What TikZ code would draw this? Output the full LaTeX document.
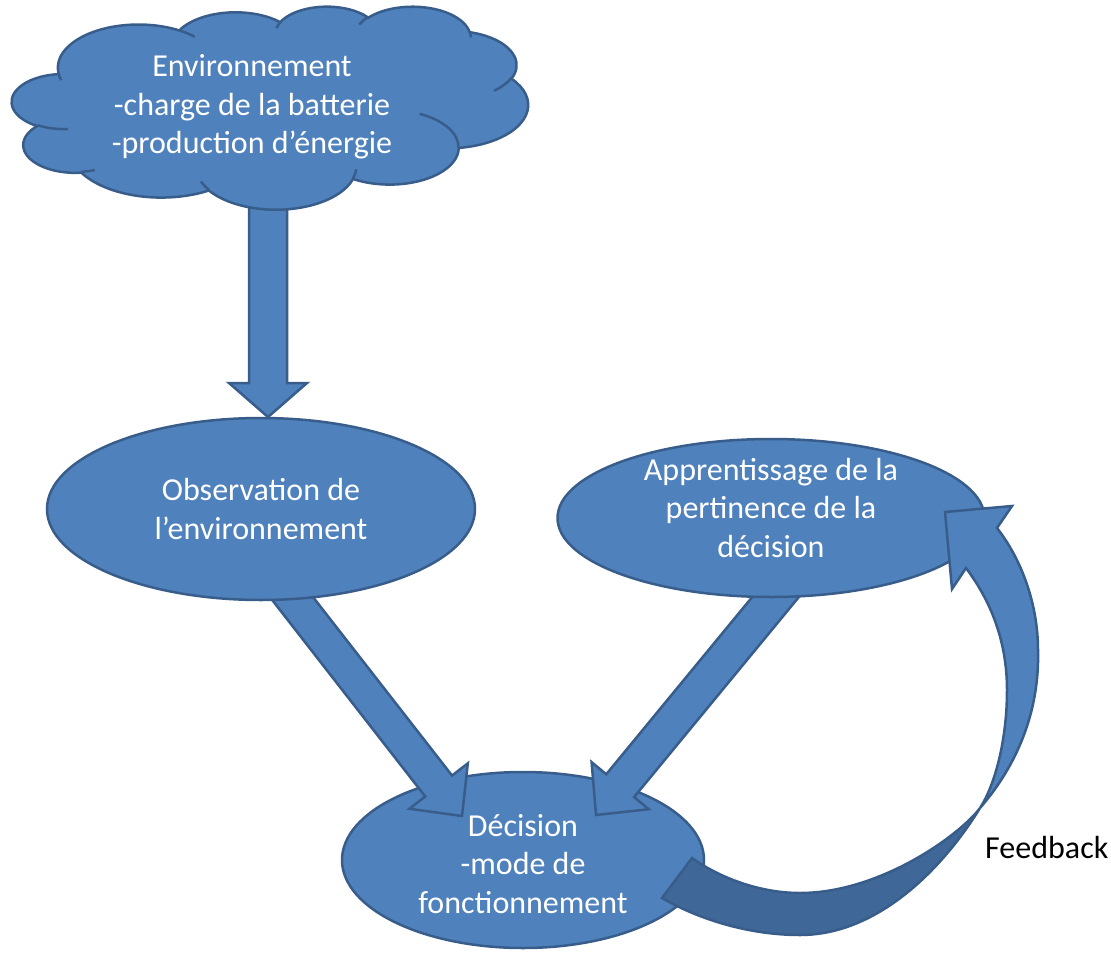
\documentclass[tikz,border=0pt]{standalone}
\usepackage{fontspec}
\setmainfont{Carlito}
\usetikzlibrary{calc,shapes.geometric}

\definecolor{shapefill}{HTML}{4F81BD}
\definecolor{shapeline}{HTML}{385D8A}
\definecolor{shapeback}{HTML}{3F6797}

\tikzset{
  blue shape/.style={fill=shapefill, draw=shapeline, line width=2.5pt, line join=miter},
  back shape/.style={fill=shapeback, draw=shapeline, line width=2.5pt, line join=miter},
  cloud rim/.style={draw=shapeline, line width=2.5pt},
  body font/.style={font=\fontsize{32}{38.5}\selectfont},
  oval/.style={blue shape, ellipse, inner sep=0pt, align=center, text=white, body font},
  inner text/.style={align=center, text=white, body font, inner sep=0pt},
  plain label/.style={text=black, body font, inner sep=0pt},
}

% block arrow from #1 (tail) to #2 (tip): shaft half width #3, head half width #4, head length #5
\newcommand\blockarrow[5]{%
  \coordinate (ba-m) at ($(#2)!#5!(#1)$);
  \filldraw[blue shape] ($(#1)!#3!90:(#2)$) -- ($(ba-m)!#3!90:(#2)$) -- ($(ba-m)!#4!90:(#2)$)
    -- (#2) -- ($(ba-m)!#4!-90:(#2)$) -- ($(ba-m)!#3!-90:(#2)$) -- ($(#1)!#3!-90:(#2)$) -- cycle;}

% cloud outline pieces: radii in 1/100 of the 43200 grid, angles in degrees
\newcommand\cloudarcdef[5]{%
  \pgfmathsetmacro\crx{#2*\csx}%
  \pgfmathsetmacro\cry{#3*\csy}%
  \pgfmathsetmacro\ctA{atan2(#2*sin(#4),#3*cos(#4))}%
  \pgfmathsetmacro\ctB{atan2(#2*sin(#4+#5),#3*cos(#4+#5))}%
  \pgfmathsetmacro\cd{\ctB-\ctA}%
  \pgfmathsetmacro\cd{\cd<0 ? \cd+360 : \cd}%
  \expandafter\xdef\csname carc#1\endcsname{arc[start angle=\ctA, delta angle=\cd, x radius=\crx, y radius=\cry]}%
}
\newcommand\cloudcrease[6]{%
  \cloudarcdef{Z}{#3}{#4}{#5}{#6}%
  \draw[cloud rim] (\cloudX+#1*\csx, \cloudY+#2*\csy) \carcZ;%
}

\begin{document}
\begin{tikzpicture}[x=1pt, y=-1pt]
\useasboundingbox (0,0) rectangle (1111,953);

% lowest layer: the decision oval
\node[oval, minimum width=362pt, minimum height=176pt] (dec) at (523,860) {};
\node[inner text] (dec-text) at ($(dec)+(0,4)$) {Décision\\-mode de\\fonctionnement};

% straight block arrows
\coordinate (env-tail) at (268,190);
\coordinate (obs-tip) at (268,417);
\coordinate (obs-tail) at (247,540);
\coordinate (dec-tip-l) at (462,816);
\coordinate (app-tail) at (806,560);
\coordinate (dec-tip-r) at (596,815);
\blockarrow{obs-tail}{dec-tip-l}{17pt}{37pt}{38pt}
\blockarrow{app-tail}{dec-tip-r}{18pt}{37pt}{38pt}
\blockarrow{env-tail}{obs-tip}{19pt}{39pt}{34pt}

% environment cloud
\def\cloudX{12}\def\cloudY{6}\def\cloudW{516}\def\cloudH{203}
\pgfmathsetmacro\csx{\cloudW/432}
\pgfmathsetmacro\csy{\cloudH/432}
\cloudarcdef{A}{67.53}{91.90}{-190.4875}{123.7805}
\cloudarcdef{B}{53.33}{72.67}{-144.1024}{89.9452}
\cloudarcdef{C}{43.65}{59.45}{-145.8079}{99.7230}
\cloudarcdef{D}{48.57}{65.95}{-130.9861}{117.2417}
\cloudarcdef{E}{53.33}{72.73}{-78.7089}{109.0269}
\cloudarcdef{F}{67.75}{92.20}{-46.2673}{130.2690}
\cloudarcdef{G}{57.85}{78.67}{0.6250}{114.0333}
\cloudarcdef{H}{67.52}{92.15}{22.4516}{115.1726}
\cloudarcdef{I}{77.20}{105.43}{66.2426}{75.7110}
\cloudarcdef{J}{43.60}{59.18}{-274.9421}{146.7356}
\cloudarcdef{K}{43.45}{59.45}{-246.8285}{152.5189}
\filldraw[blue shape] (\cloudX+39.00*\csx, \cloudY+143.70*\csy)
  \carcA \carcB \carcC \carcD \carcE \carcF \carcG \carcH \carcI \carcJ \carcK -- cycle;
\cloudcrease{46.93}{261.77}{43.45}{59.45}{86.7420}{26.4295}
\cloudcrease{69.28}{348.99}{43.60}{59.18}{73.6105}{11.4475}
\cloudcrease{164.78}{390.90}{67.52}{92.15}{137.6242}{14.0811}
\cloudcrease{288.27}{347.51}{67.52}{92.15}{6.4533}{15.9984}
\cloudcrease{341.29}{229.54}{57.85}{78.67}{-70.2924}{70.9174}
\cloudcrease{417.98}{153.54}{53.33}{72.73}{30.3180}{27.7515}
\cloudcrease{383.24}{54.26}{48.57}{65.95}{-13.7443}{14.8589}
\cloudcrease{290.78}{39.52}{48.57}{65.95}{-149.1815}{18.1954}
\cloudcrease{221.41}{47.20}{43.65}{59.45}{-163.4943}{17.6864}
\cloudcrease{140.00}{51.92}{67.53}{91.90}{-66.7070}{12.3194}
\cloudcrease{41.27}{157.89}{67.53}{91.90}{157.6544}{11.8582}
\node[inner text] (env) at (252,107) {Environnement\\-charge de la batterie\\-production d’énergie};

% upper ovals
\node[oval, minimum width=428pt, minimum height=182pt] (obs) at (261,509) {Observation de\\l’environnement};
\node[oval, minimum width=427pt, minimum height=158pt] (app) at (771,518) {};
\node[inner text] (app-text) at ($(app)+(0,-10)$) {Apprentissage de la\\pertinence de la\\décision};

% curved feedback arrow from the decision oval back up to the learning oval
\coordinate (fb-tail-a) at (692,858);
\coordinate (fb-tail-b) at (662,898);
\coordinate (fb-twist) at (980,808);
\coordinate (fb-tip) at (945,512);
% twisted back face, from the twist down to the tail
\filldraw[back shape] (fb-twist)
  .. controls (960,835) and (880,893) .. (800,893)
  .. controls (760,893) and (720,878) .. (fb-tail-a)
  -- (fb-tail-b)
  .. controls (700,920) and (750,935) .. (800,935)
  .. controls (880,935) and (945,865) .. (fb-twist) -- cycle;
% front face with the head
\filldraw[blue shape] (fb-twist)
  .. controls (1006,778) and (1040,725) .. (1038,650)
  .. controls (1038,605) and (1022,560) .. (997,528)
  -- (1012,506) -- (fb-tip) -- (952,589) -- (966,568)
  .. controls (990,600) and (1007,640) .. (1007,690)
  .. controls (1007,740) and (995,785) .. (fb-twist) -- cycle;

\node[plain label, anchor=base west] (fb) at (985,858) {Feedback};
\end{tikzpicture}
\end{document}
